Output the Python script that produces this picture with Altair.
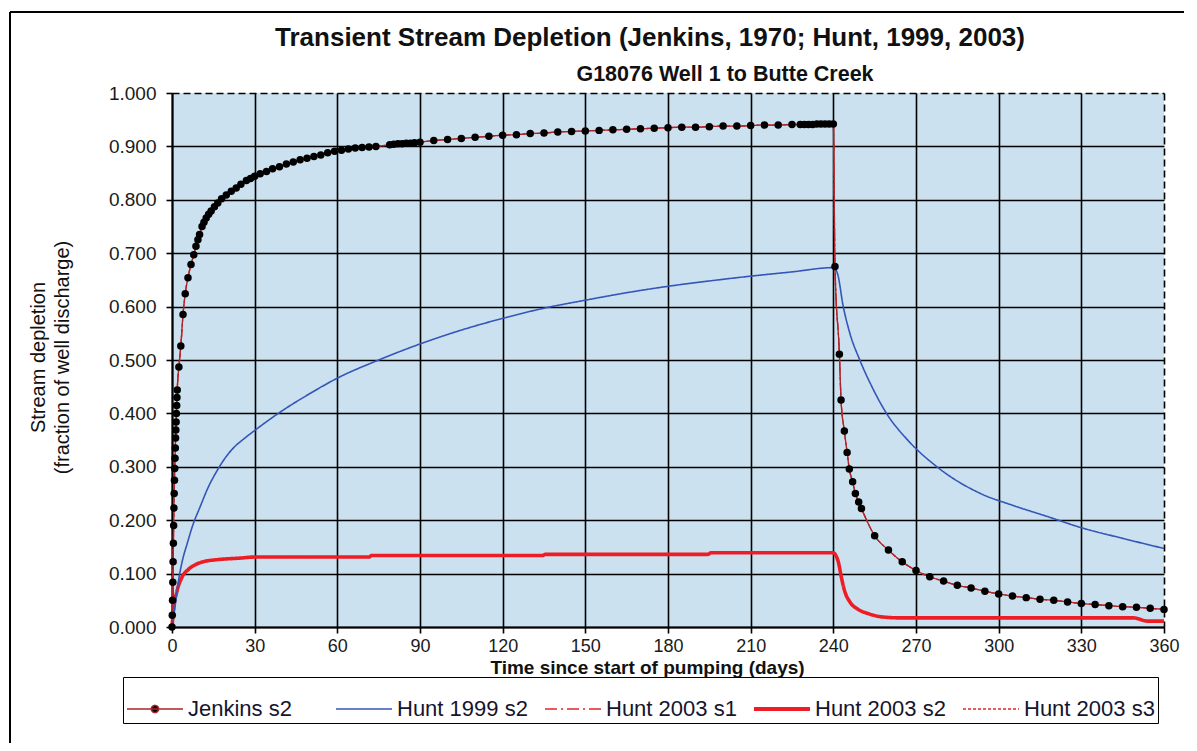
import altair as alt
import pandas as pd

TITLE = "Transient Stream Depletion (Jenkins, 1970; Hunt, 1999, 2003)"
SUBTITLE = "G18076 Well 1 to Butte Creek"
X_TITLE = "Time since start of pumping (days)"
Y_TITLE = ["Stream depletion", "(fraction of well discharge)"]

SERIES = ["Jenkins s2", "Hunt 1999 s2", "Hunt 2003 s1", "Hunt 2003 s2", "Hunt 2003 s3"]
X_TICKS = [0, 30, 60, 90, 120, 150, 180, 210, 240, 270, 300, 330, 360]
Y_TICKS = [0.0, 0.1, 0.2, 0.3, 0.4, 0.5, 0.6, 0.7, 0.8, 0.9, 1.0]

# Jenkins s2 (markers + thin dark red line)
jenkins_t = [0, 0.1, 0.2, 0.3, 0.4, 0.5, 0.6, 0.7, 0.8, 0.9, 1.0, 1.1, 1.2, 1.3, 1.4, 1.5, 1.6, 1.7, 1.8, 1.9,
             2.5, 3.2, 4.0, 4.8, 5.8, 6.9, 7.9, 8.7, 9.4, 10.0, 10.9, 11.6, 12.4, 13.3, 14.2, 15.4, 16.6,
             18.0, 19.7, 21.5, 23.3, 25.0, 27.0, 28.5, 30.0, 32.0, 34.3, 36.5, 39.0, 41.5, 44.0, 46.5,
             49.0, 51.5, 54.0, 56.5, 59.0, 61.5, 64.0, 66.5, 69.0, 71.5, 74.0,
             79.0, 80.5, 82.0, 83.5, 85.0, 86.5, 88.0, 90.0,
             95, 100, 105, 110, 115, 120, 125, 130, 135, 140, 145, 150, 155, 160, 165, 170, 175, 180,
             185, 190, 195, 200, 205, 210, 215, 220, 225,
             228.0, 229.5, 231.0, 232.5, 234.0, 235.5, 237.0, 238.5, 240.0,
             240.6, 242.2, 242.8, 244.0, 245.0, 245.8, 247.0, 248.0, 249.2, 250.2,
             255, 260, 265, 270, 275, 280, 285, 290, 295, 300, 305, 310, 315, 320, 325, 330, 335, 340,
             345, 350, 355, 360]
jenkins_v = [0.000, 0.022, 0.050, 0.084, 0.122, 0.157, 0.190, 0.223, 0.250, 0.275, 0.297, 0.316, 0.335,
             0.354, 0.369, 0.384, 0.400, 0.415, 0.430, 0.444,
             0.487, 0.526, 0.585, 0.624, 0.654, 0.679, 0.697, 0.713, 0.725, 0.735, 0.750, 0.758, 0.766,
             0.773, 0.779, 0.787, 0.794, 0.802, 0.809, 0.816, 0.822, 0.829, 0.836, 0.840, 0.844, 0.849,
             0.853, 0.858, 0.862, 0.867, 0.871, 0.875, 0.878, 0.881, 0.884, 0.888, 0.891, 0.893, 0.895,
             0.897, 0.898, 0.899, 0.900,
             0.903, 0.904, 0.905, 0.905, 0.906, 0.906, 0.907, 0.908,
             0.911, 0.913, 0.915, 0.917, 0.919, 0.921, 0.922, 0.924, 0.925, 0.927, 0.928, 0.929, 0.930,
             0.931, 0.932, 0.933, 0.934, 0.935, 0.936, 0.936, 0.937, 0.938, 0.938, 0.939, 0.940, 0.940,
             0.941,
             0.941, 0.941, 0.941, 0.941, 0.942, 0.942, 0.942, 0.942, 0.942,
             0.675, 0.511, 0.425, 0.367, 0.327, 0.296, 0.272, 0.250, 0.234, 0.222,
             0.171, 0.144, 0.122, 0.106, 0.094, 0.086, 0.078, 0.073, 0.067, 0.062, 0.058, 0.055, 0.052,
             0.050, 0.047, 0.044, 0.042, 0.040, 0.038, 0.037, 0.035, 0.033]

# Hunt 1999 s2 (blue)
hunt1999_t = [0, 1.0, 2.4, 3.8, 5.5, 7.5, 10.2, 13.0, 16.5, 19.5, 22.8, 26.0, 30.0, 40.0, 50.0, 60.0,
              75.0, 90.0, 105.0, 120.0, 135.0, 150.0, 165.0, 180.0, 195.0, 210.0, 225.0, 240.0,
              241.5, 243.6, 246.0, 249.6, 254.0, 259.3, 267.0, 277.6, 293.4, 305.0, 317.6, 330.0, 345.0,
              360.0]
hunt1999_v = [0.000, 0.035, 0.088, 0.125, 0.156, 0.190, 0.225, 0.260, 0.294, 0.318, 0.338, 0.352, 0.368,
              0.405, 0.437, 0.466, 0.500, 0.530, 0.556, 0.578, 0.597, 0.612, 0.626, 0.638, 0.648, 0.657,
              0.665, 0.673,
              0.662, 0.600, 0.550, 0.500, 0.450, 0.400, 0.350, 0.300, 0.250, 0.228, 0.207, 0.186, 0.166,
              0.147]

# Hunt 2003 s2 (thick red)
hunt2003_s2_t = [0, 0.6, 1.8, 3.6, 6.0, 9.0, 12.0, 16.2, 24.6, 30.0, 71.5, 72.5, 134.5, 135.5, 194.5,
                 195.5, 240.0, 240.8, 241.8, 243.0, 244.2, 246.0, 249.0, 252.7, 257.5, 264.7, 349.0,
                 354.0, 360.0]
hunt2003_s2_v = [0.000, 0.035, 0.067, 0.093, 0.108, 0.118, 0.123, 0.126, 0.129, 0.131, 0.131, 0.134,
                 0.134, 0.136, 0.136, 0.139, 0.139, 0.135, 0.122, 0.091, 0.066, 0.047, 0.033, 0.025,
                 0.019, 0.017, 0.017, 0.011, 0.011]

# Hunt 2003 s1 and s3 lie under the Jenkins curve in the picture
hunt2003_s1_t, hunt2003_s1_v = jenkins_t, jenkins_v
hunt2003_s3_t, hunt2003_s3_v = jenkins_t, jenkins_v

COLORS = ["#a8262b", "#3556b8", "#e0262b", "#ee1c24", "#e0262b"]
DASHES = [[1, 0], [1, 0], [12, 4, 2, 4], [1, 0], [3, 2]]
WIDTH = {"Jenkins s2": 1.3, "Hunt 1999 s2": 1.6, "Hunt 2003 s1": 1.3, "Hunt 2003 s2": 3.6,
         "Hunt 2003 s3": 1.3}

rows = []
for name, ts, vs in [("Hunt 2003 s1", hunt2003_s1_t, hunt2003_s1_v),
                     ("Hunt 2003 s3", hunt2003_s3_t, hunt2003_s3_v),
                     ("Hunt 2003 s2", hunt2003_s2_t, hunt2003_s2_v),
                     ("Hunt 1999 s2", hunt1999_t, hunt1999_v),
                     ("Jenkins s2", jenkins_t, jenkins_v)]:
    for t, v in zip(ts, vs):
        rows.append({"series": name, "t": t, "v": v, "w": WIDTH[name]})
df = pd.DataFrame(rows)
df_jenkins = pd.DataFrame({"t": jenkins_t, "v": jenkins_v})

FONT = "Liberation Sans"

xaxis = alt.Axis(values=X_TICKS, title=X_TITLE, grid=True, gridColor="black", gridWidth=1.6,
                 gridDash={"condition": {"test": "datum.value >= 359", "value": [7, 4]}, "value": []},
                 domainColor="black", domainWidth=2, tickColor="black", tickSize=6, tickWidth=1.6,
                 labelFont=FONT, labelFontSize=18, labelColor="#1a1a1a", labelPadding=4, labelFlush=False,
                 titleFont=FONT, titleFontSize=19, titleFontWeight="bold", titleColor="#111111",
                 titleX=475, titleY=31, titleBaseline="top", titleAnchor="middle")
yaxis = alt.Axis(values=Y_TICKS, format=".3f", title=Y_TITLE, grid=True, gridColor="black", gridWidth=1.6,
                 gridDash={"condition": {"test": "datum.value >= 0.999", "value": [7, 4]}, "value": []},
                 domainColor="black", domainWidth=2, tickColor="black", tickSize=6, tickWidth=1.6,
                 labelFont=FONT, labelFontSize=19, labelColor="#1a1a1a", labelPadding=10,
                 titleFont=FONT, titleFontSize=20, titleFontWeight="normal", titleColor="#111111",
                 titleAngle=270, titleX=-134, titleY=264, titleBaseline="middle", titleLineHeight=24)

xs = alt.Scale(domain=[0, 360], nice=False)
ys = alt.Scale(domain=[0, 1], nice=False)

JPATH = "M-1,0L1,0M0.13,0A0.13,0.13,0,1,1,-0.13,0A0.13,0.13,0,1,1,0.13,0Z"
leg = alt.Legend(
    title=None, orient="none", legendX=-49, legendY=584, direction="horizontal", columns=5,
    gridAlign="all",
    symbolType={"expr": "(datum.value === 'Jenkins s2' ? '" + JPATH + "' : 'stroke')"},
    symbolFillColor={"expr": "(datum.value === 'Jenkins s2' ? 'black' : 'transparent')"},
    symbolStrokeWidth={"expr": "(datum.value === 'Hunt 2003 s2' ? 4 : 1.5)"},
    symbolSize=3136, labelFont=FONT, labelFontSize=22, labelColor="#15152e",
    labelOffset=4, labelLimit=400, columnPadding=9, padding=3,
    strokeColor="black", fillColor="white",
)

lines = alt.Chart(df).mark_line(strokeJoin="round", interpolate="monotone").encode(
    x=alt.X("t:Q", scale=xs, axis=xaxis),
    y=alt.Y("v:Q", scale=ys, axis=yaxis),
    color=alt.Color("series:N", scale=alt.Scale(domain=SERIES, range=COLORS), legend=leg),
    strokeDash=alt.StrokeDash("series:N", scale=alt.Scale(domain=SERIES, range=DASHES), legend=leg),
    strokeWidth=alt.StrokeWidth("w:Q", scale=None, legend=None),
)

points = alt.Chart(df_jenkins).mark_circle(size=56, color="black", opacity=1).encode(
    x=alt.X("t:Q", scale=xs, axis=xaxis),
    y=alt.Y("v:Q", scale=ys, axis=yaxis),
)

title = alt.Chart(pd.DataFrame({"label": [TITLE]})).mark_text(
    font=FONT, fontSize=26, fontWeight="bold", color="#111111", align="center", baseline="alphabetic"
).encode(text="label:N", x=alt.value(478), y=alt.value(-47))

subtitle = alt.Chart(pd.DataFrame({"label": [SUBTITLE]})).mark_text(
    font=FONT, fontSize=21.5, fontWeight="bold", color="#111111", align="center", baseline="alphabetic"
).encode(text="label:N", x=alt.value(553), y=alt.value(-12))

frame_top = alt.Chart(pd.DataFrame({"k": [0]})).mark_rule(color="black", strokeWidth=2).encode(
    x=alt.value(-162), x2=alt.value(1040), y=alt.value(-81))
frame_left = alt.Chart(pd.DataFrame({"k": [0]})).mark_rule(color="black", strokeWidth=2).encode(
    x=alt.value(-162), y=alt.value(-81), y2=alt.value(670))

chart = alt.layer(lines, points, title, subtitle, frame_top, frame_left).properties(
    width=992, height=534,
    autosize=alt.AutoSizeParams(type="none"),
    padding={"left": 164, "top": 85, "right": 20, "bottom": 116},
    background="white",
).configure_view(fill="#cbe1ef", stroke=None)

chart.save("out.html", embed_options={"renderer": "svg", "actions": False})
